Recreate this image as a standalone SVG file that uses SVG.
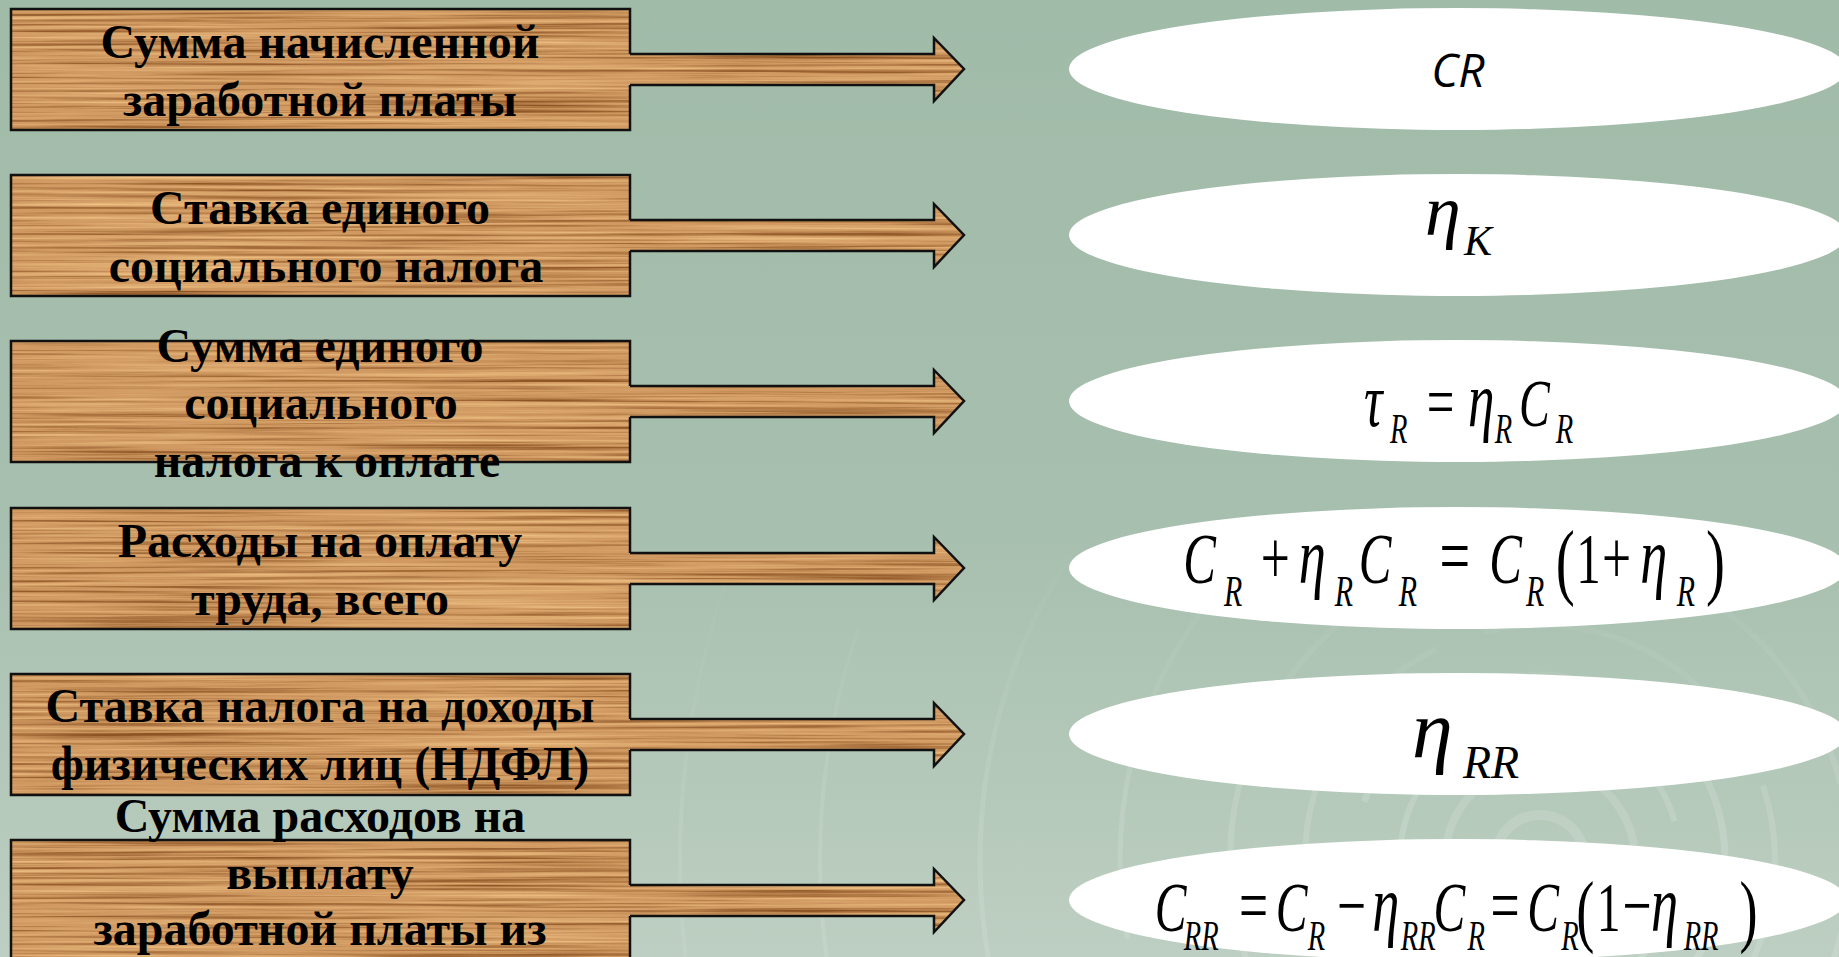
<svg xmlns="http://www.w3.org/2000/svg" width="1839" height="957" viewBox="0 0 1839 957">
<defs>
  <linearGradient id="bg" x1="0" y1="0" x2="0" y2="1">
    <stop offset="0" stop-color="#A1BBA9"/>
    <stop offset="0.55" stop-color="#A7BFAE"/>
    <stop offset="1" stop-color="#BDCFC2"/>
  </linearGradient>
  <linearGradient id="fadeg" gradientUnits="userSpaceOnUse" x1="0" y1="520" x2="0" y2="820">
    <stop offset="0" stop-color="#000"/>
    <stop offset="1" stop-color="#fff"/>
  </linearGradient>
  <mask id="fade" maskUnits="userSpaceOnUse" x="0" y="0" width="1839" height="957">
    <rect x="0" y="0" width="1839" height="957" fill="url(#fadeg)"/>
  </mask>
  <filter id="wood" filterUnits="userSpaceOnUse" x="0" y="0" width="1000" height="957" color-interpolation-filters="sRGB">
    <feTurbulence type="fractalNoise" baseFrequency="0.003 0.3" numOctaves="4" seed="11" result="n"/>
    <feColorMatrix in="n" type="matrix" values="0 0 0 0 0.55  0 0 0 0 0.33  0 0 0 0 0.14  2.8 0 0 0 -1.4" result="dk"/>
    <feColorMatrix in="n" type="matrix" values="0 0 0 0 0.94  0 0 0 0 0.76  0 0 0 0 0.52  -2.8 0 0 0 1.3" result="lt"/>
    <feMerge result="m"><feMergeNode in="SourceGraphic"/><feMergeNode in="lt"/><feMergeNode in="dk"/></feMerge>
    <feComposite in="m" in2="SourceGraphic" operator="in"/>
  </filter>
  <style>
    .wood{fill:#D09A62;filter:url(#wood)}
    .edge{fill:none;stroke:#111;stroke-width:2.5;stroke-linejoin:miter}
    .lbl{font-family:"Liberation Serif","Times New Roman",serif;font-weight:bold;font-size:48px;text-anchor:middle;fill:#000}
    .oval{fill:#FFFFFF}
    .m{font-family:"Liberation Serif","Times New Roman",serif;font-style:italic;fill:#000}
    .u{font-style:normal}
    .ring{fill:none;stroke:#FFFFFF}
  </style>
</defs>

<rect x="0" y="0" width="1839" height="957" fill="url(#bg)"/>

<g id="background-rings" mask="url(#fade)">
  <circle class="ring" cx="1540" cy="860" r="45" stroke-width="10" stroke-opacity="0.13"/>
  <circle class="ring" cx="1540" cy="860" r="95" stroke-width="8" stroke-opacity="0.13"/>
  <circle class="ring" cx="1540" cy="860" r="140" stroke-width="6" stroke-opacity="0.15" stroke-dasharray="180 40"/>
  <circle class="ring" cx="1540" cy="860" r="185" stroke-width="7" stroke-opacity="0.15" stroke-dasharray="260 60"/>
  <circle class="ring" cx="1540" cy="860" r="235" stroke-width="6" stroke-opacity="0.13" stroke-dasharray="300 50"/>
  <circle class="ring" cx="1540" cy="860" r="310" stroke-width="6" stroke-opacity="0.13" stroke-dasharray="400 90"/>
  <circle class="ring" cx="1540" cy="860" r="420" stroke-width="5" stroke-opacity="0.12" stroke-dasharray="500 120"/>
  <circle class="ring" cx="1540" cy="860" r="560" stroke-width="5" stroke-opacity="0.11" stroke-dasharray="600 150"/>
  <circle class="ring" cx="1540" cy="860" r="720" stroke-width="4" stroke-opacity="0.10" stroke-dasharray="700 200"/>
  <circle class="ring" cx="1540" cy="860" r="860" stroke-width="4" stroke-opacity="0.08"/>
</g>

<g id="connectors">
  <path class="wood" d="M626,54 H934 V38 L964,69 L934,101 V85 H626 Z"/>
  <path class="edge" d="M630,54 H934 V38 L964,69 L934,101 V85 H630"/>
  <path class="wood" d="M626,220 H934 V204 L964,235 L934,267 V251 H626 Z"/>
  <path class="edge" d="M630,220 H934 V204 L964,235 L934,267 V251 H630"/>
  <path class="wood" d="M626,386 H934 V370 L964,401 L934,433 V417 H626 Z"/>
  <path class="edge" d="M630,386 H934 V370 L964,401 L934,433 V417 H630"/>
  <path class="wood" d="M626,553 H934 V537 L964,568 L934,600 V584 H626 Z"/>
  <path class="edge" d="M630,553 H934 V537 L964,568 L934,600 V584 H630"/>
  <path class="wood" d="M626,719 H934 V703 L964,734 L934,766 V750 H626 Z"/>
  <path class="edge" d="M630,719 H934 V703 L964,734 L934,766 V750 H630"/>
  <path class="wood" d="M626,885 H934 V869 L964,900 L934,932 V916 H626 Z"/>
  <path class="edge" d="M630,885 H934 V869 L964,900 L934,932 V916 H630"/>
</g>

<g id="node-1">
  <rect class="wood" x="11" y="9" width="619" height="121"/>
  <path class="edge" d="M630,54 V9 H11 V130 H630 V85"/>
  <text class="lbl"><tspan x="320" y="58">Сумма начисленной</tspan><tspan x="320" y="116">заработной платы</tspan></text>
</g>
<g id="node-2">
  <rect class="wood" x="11" y="175" width="619" height="121"/>
  <path class="edge" d="M630,220 V175 H11 V296 H630 V251"/>
  <text class="lbl"><tspan x="320" y="224">Ставка единого</tspan><tspan x="326" y="282">социального налога</tspan></text>
</g>
<g id="node-3">
  <rect class="wood" x="11" y="341" width="619" height="121"/>
  <path class="edge" d="M630,386 V341 H11 V462 H630 V417"/>
  <text class="lbl"><tspan x="320" y="362">Сумма единого</tspan><tspan x="321" y="419">социального</tspan><tspan x="327" y="477">налога к оплате</tspan></text>
</g>
<g id="node-4">
  <rect class="wood" x="11" y="508" width="619" height="121"/>
  <path class="edge" d="M630,553 V508 H11 V629 H630 V584"/>
  <text class="lbl"><tspan x="320" y="557">Расходы на оплату</tspan><tspan x="320" y="615">труда, всего</tspan></text>
</g>
<g id="node-5">
  <rect class="wood" x="11" y="674" width="619" height="121"/>
  <path class="edge" d="M630,719 V674 H11 V795 H630 V750"/>
  <text class="lbl"><tspan x="320" y="722">Ставка налога на доходы</tspan><tspan x="320" y="780">физических лиц (НДФЛ)</tspan></text>
</g>
<g id="node-6">
  <rect class="wood" x="11" y="840" width="619" height="121"/>
  <path class="edge" d="M630,885 V840 H11 V961 H630 V916"/>
  <text class="lbl"><tspan x="320" y="832">Сумма расходов на</tspan><tspan x="320" y="889">выплату</tspan><tspan x="320" y="945">заработной платы из</tspan></text>
</g>

<g id="formula-1">
  <ellipse class="oval" cx="1458" cy="69" rx="389" ry="61"/>
  <text x="1458" y="87" font-family="Open Sans, Liberation Sans, sans-serif" font-style="italic" font-size="46" text-anchor="middle" fill="#000">CR</text>
</g>
<g id="formula-2">
  <ellipse class="oval" cx="1458" cy="235" rx="389" ry="61"/>
  <text class="m"><tspan x="1425" y="235" font-size="72">η</tspan><tspan x="1464" y="255" font-size="42">K</tspan></text>
</g>
<g id="formula-3">
  <ellipse class="oval" cx="1458" cy="401" rx="389" ry="61"/>
  <text class="m" transform="scale(0.68,1)" font-size="68"><tspan x="2006" y="426" font-size="76">τ</tspan><tspan x="2044" y="443" font-size="42">R</tspan><tspan class="u" x="2098" y="426" font-size="72">=</tspan><tspan x="2159" y="426" font-size="78">η</tspan><tspan x="2198" y="443" font-size="42">R</tspan><tspan x="2234" y="426">C</tspan><tspan x="2288" y="443" font-size="42">R</tspan></text>
</g>
<g id="formula-4">
  <ellipse class="oval" cx="1458" cy="568" rx="389" ry="61"/>
  <text class="m" transform="scale(0.68,1)" font-size="72"><tspan x="1740" y="583">C</tspan><tspan x="1800" y="606" font-size="44">R</tspan><tspan class="u" x="1854" y="583" font-size="76">+</tspan><tspan x="1910" y="583" font-size="80">η</tspan><tspan x="1963" y="606" font-size="44">R</tspan><tspan x="1998" y="583">C</tspan><tspan x="2057" y="606" font-size="44">R</tspan><tspan class="u" x="2117" y="583" font-size="80">=</tspan><tspan x="2190" y="583">C</tspan><tspan x="2244" y="606" font-size="44">R</tspan><tspan class="u" x="2288" y="589" font-size="84">(</tspan><tspan class="u" x="2318" y="583">1</tspan><tspan class="u" x="2356" y="583" font-size="76">+</tspan><tspan x="2412" y="583" font-size="80">η</tspan><tspan x="2466" y="606" font-size="44">R</tspan><tspan class="u" x="2509" y="589" font-size="84">)</tspan></text>
</g>
<g id="formula-5">
  <ellipse class="oval" cx="1458" cy="734" rx="389" ry="61"/>
  <text class="m"><tspan x="1412" y="757" font-size="82">η</tspan><tspan x="1463" y="778" font-size="46">RR</tspan></text>
</g>
<g id="formula-6">
  <ellipse class="oval" cx="1458" cy="900" rx="389" ry="61"/>
  <text class="m" transform="scale(0.68,1)" font-size="70"><tspan x="1698" y="931">C</tspan><tspan x="1741" y="950" font-size="42">RR</tspan><tspan class="u" x="1822" y="931" font-size="76">=</tspan><tspan x="1876" y="931">C</tspan><tspan x="1923" y="950" font-size="42">R</tspan><tspan class="u" x="1966" y="931" font-size="76">−</tspan><tspan x="2018" y="931" font-size="80">η</tspan><tspan x="2060" y="950" font-size="42">RR</tspan><tspan x="2108" y="931">C</tspan><tspan x="2158" y="950" font-size="42">R</tspan><tspan class="u" x="2192" y="931" font-size="76">=</tspan><tspan x="2246" y="931">C</tspan><tspan x="2296" y="950" font-size="42">R</tspan><tspan class="u" x="2318" y="937" font-size="80">(</tspan><tspan class="u" x="2348" y="931">1</tspan><tspan class="u" x="2386" y="931" font-size="76">−</tspan><tspan x="2428" y="931" font-size="80">η</tspan><tspan x="2476" y="950" font-size="42">RR</tspan><tspan class="u" x="2558" y="937" font-size="80">)</tspan></text>
</g>
</svg>
